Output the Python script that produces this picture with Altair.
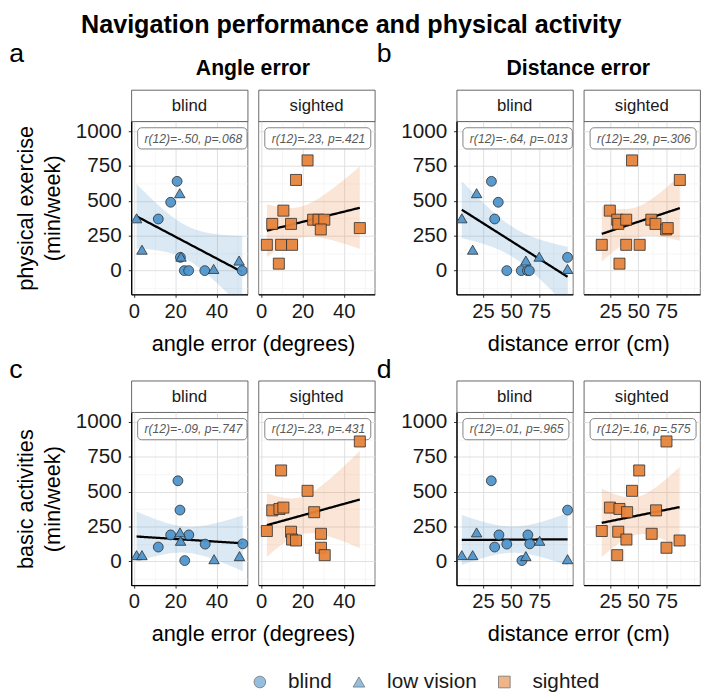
import numpy as np
import pandas as pd
import altair as alt

FONT = "Liberation Sans"

# ---------------- values ----------------
blind_groups = ["blind"] * 8 + ["low vision"] * 6
sighted_groups = ["sighted"] * 14

# a: angle error (degrees) vs physical exercise (min/week)
a_blind_x = [20.9, 17.8, 11.8, 22.5, 24.4, 26.5, 34.3, 52.4, 1.3, 3.9, 22.2, 22.8, 38.6, 50.9]
a_blind_y = [640, 490, 370, 95, 0, 0, 0, 0, 375, 150, 555, 100, 12, 72]
a_sighted_x = [22.5, 16.9, 10.8, 5.4, 14.5, 25.2, 27.8, 30.6, 28.9, 2.8, 9.7, 15.0, 8.6, 47.8]
a_sighted_y = [790, 650, 430, 335, 335, 365, 365, 365, 295, 185, 185, 185, 50, 305]

# b: distance error (cm) vs physical exercise (min/week)
b_blind_x = [32.4, 38.5, 35.3, 46.1, 59.0, 64.5, 66.2, 100.3, 6.0, 19.2, 15.7, 63.1, 75.0, 100.3]
b_blind_y = [640, 490, 370, 0, 0, 0, 0, 95, 375, 555, 150, 72, 100, 12]
b_sighted_x = [44.4, 87.0, 24.6, 31.2, 32.1, 39.2, 61.6, 65.3, 74.8, 76.2, 17.4, 39.2, 51.2, 33.2]
b_sighted_y = [790, 650, 430, 365, 335, 365, 365, 335, 295, 305, 185, 185, 185, 50]

# c: angle error (degrees) vs basic activities (min/week)
c_blind_x = [21.3, 22.3, 17.8, 26.6, 11.8, 24.6, 34.5, 52.7, 1.3, 3.9, 22.3, 22.6, 38.8, 51.1]
c_blind_y = [578, 368, 190, 190, 103, 6, 124, 126, 45, 45, 208, 148, 16, 38]
c_sighted_x = [47.8, 9.7, 22.5, 5.4, 8.9, 10.8, 25.7, 2.8, 14.5, 15.0, 16.9, 29.0, 29.0, 30.8]
c_sighted_y = [860, 652, 506, 366, 376, 386, 353, 218, 213, 157, 150, 198, 98, 45]

# d: distance error (cm) vs basic activities (min/week)
d_blind_x = [32.3, 39.1, 35.3, 46.1, 64.9, 66.6, 59.6, 100.3, 6.0, 15.7, 19.2, 63.1, 75.4, 100.3]
d_blind_y = [578, 190, 103, 124, 190, 126, 6, 368, 45, 45, 208, 38, 148, 16]
d_sighted_x = [75.1, 50.8, 44.4, 24.7, 33.2, 40.0, 65.8, 17.4, 32.1, 39.4, 61.9, 86.8, 75.1, 31.2]
d_sighted_y = [860, 652, 506, 386, 376, 353, 366, 218, 213, 157, 198, 150, 98, 45]

stat_labels = {
    "a": ["r(12)=-.50, p=.068", "r(12)=.23, p=.421"],
    "b": ["r(12)=-.64, p=.013", "r(12)=.29, p=.306"],
    "c": ["r(12)=-.09, p=.747", "r(12)=.23, p=.431"],
    "d": ["r(12)=.01, p=.965", "r(12)=.16, p=.575"],
}
panel_letters = ["a", "b", "c", "d"]
panel_titles = ["Angle error", "Distance error"]
facet_names = ["blind", "sighted"]
x_titles = ["angle error (degrees)", "distance error (cm)"]
y_titles = [["physical exercise", "(min/week)"], ["basic activities", "(min/week)"]]
main_title = "Navigation performance and physical activity"

group_domain = ["blind", "low vision", "sighted"]
group_shapes = ["circle", "triangle-up", "square"]
group_fills = ["#5096cc", "#5096cc", "#e6843c"]
group_sizes = [100, 125, 72]

y_domain = [-170, 1070]
y_grid = [-125, 0, 125, 250, 375, 500, 625, 750, 875, 1000]
y_labels = [0, 250, 500, 750, 1000]
angle_domain = [-1.3, 55.0]
angle_grid = [0, 10, 20, 30, 40, 50]
angle_labels = [0, 20, 40]
dist_domain = [1.3, 105.0]
dist_grid = [12.5, 25, 37.5, 50, 62.5, 75, 87.5, 100]
dist_labels = [25, 50, 75]

# ---------------- layout constants ----------------
W = 118
PH = 175.5
SH = 32
GAP = 60.3
ROWGAP = 86.3
MAJ_C, MIN_C = "#e0e0e0", "#ececec"
T975 = 2.1788  # t quantile, df = 12


def band_df(xs, ys, n=80):
    x = np.asarray(xs, float)
    y = np.asarray(ys, float)
    b1, b0 = np.polyfit(x, y, 1)
    gx = np.linspace(x.min(), x.max(), n)
    fit = b0 + b1 * gx
    resid = y - (b0 + b1 * x)
    s = np.sqrt((resid ** 2).sum() / (len(x) - 2))
    sxx = ((x - x.mean()) ** 2).sum()
    se = s * np.sqrt(1.0 / len(x) + (gx - x.mean()) ** 2 / sxx)
    return pd.DataFrame({"x": gx, "fit": fit, "lo": fit - T975 * se, "hi": fit + T975 * se})


def test_in(vals):
    return "indexof([" + ",".join(str(v) for v in vals) + "], datum.value) >= 0"


def cond(test, a, b):
    return {"condition": {"test": test, "value": a}, "value": b}


SHAPE_SCALE = alt.Scale(domain=group_domain, range=group_shapes)
FILL_SCALE = alt.Scale(domain=group_domain, range=group_fills)
SIZE_SCALE = alt.Scale(domain=group_domain, range=group_sizes)
STROKE_SCALE = alt.Scale(domain=group_domain, range=["#4d4d4d", "#4d4d4d", "#4d4d4d"])

LEG = alt.Legend(
    orient="none", legendX=120, legendY=87, direction="horizontal", title=None,
    labelFont=FONT, labelFontSize=21, labelColor="#1a1a1a", symbolSize=140,
    labelOffset=18, columnPadding=16.5, symbolStrokeWidth=0.8,
)


def plot_cell(px, py, pg, label, xdom, xgrid, xlabs, rcolor, left, ytitle=None, xtitle=None):
    pts = pd.DataFrame({"x": px, "y": py, "group": pg})
    bd = band_df(px, py)
    xsc = alt.Scale(domain=xdom, nice=False, zero=False)
    ysc = alt.Scale(domain=y_domain, nice=False, zero=False)
    xt = test_in(xlabs)
    yt = test_in(y_labels)
    xkw = dict(
        values=xgrid, format="d", labelExpr=f"{xt} ? datum.label : ''", grid=True,
        gridColor=cond(xt, MAJ_C, MIN_C), gridWidth=cond(xt, 1.0, 0.5),
        tickOpacity=cond(xt, 1, 0), tickSize=3, tickColor="#333333",
        domainColor="black", domainWidth=1.4, labelFontSize=20.5, labelPadding=4,
        labelFont=FONT, labelColor="#1a1a1a", labelFlush=False, labelOverlap=False,
    )
    if xtitle:
        xkw.update(titleX=123.5, titleY=56.5, titleBaseline="alphabetic", titleAlign="center",
                   titleFontSize=22, titleFont=FONT, titleFontWeight="normal", titleColor="black")
    xaxis = alt.Axis(**xkw)
    if left:
        ykw = dict(
            values=y_grid, format="d", labelExpr=f"{yt} ? datum.label : ''", grid=True,
            gridColor=cond(yt, MAJ_C, MIN_C), gridWidth=cond(yt, 1.0, 0.5),
            tickOpacity=cond(yt, 1, 0), tickSize=3, tickColor="#333333",
            domainColor="black", domainWidth=1.4, labelFontSize=21, labelPadding=7,
            labelFont=FONT, labelColor="#1a1a1a", labelOverlap=False, labelFlush=False,
        )
        if ytitle:
            ykw.update(titleX=-106.7, titleY=PH / 2, titleBaseline="middle", titleAlign="center",
                       titleAngle=270, titleLineHeight=27, titleFontSize=22, titleFont=FONT,
                       titleFontWeight="normal", titleColor="black")
    else:
        ykw = dict(values=y_grid, labels=False, ticks=False, domain=False, grid=True,
                   gridColor=cond(yt, MAJ_C, MIN_C), gridWidth=cond(yt, 1.0, 0.5))
    yaxis = alt.Axis(**ykw)

    def xe(f):
        return alt.X(f, type="quantitative", scale=xsc, axis=xaxis, title=xtitle if xtitle else None)

    def ye(f):
        return alt.Y(f, type="quantitative", scale=ysc, axis=yaxis, title=ytitle if ytitle else None)

    ribbon = alt.Chart(bd).mark_area(color=rcolor, opacity=0.21, clip=True).encode(
        x=xe("x"), y=ye("lo"), y2=alt.Y2("hi"))
    line = alt.Chart(bd).mark_line(color="black", strokeWidth=2.3, clip=True).encode(
        x=xe("x"), y=ye("fit"))
    points = alt.Chart(pts).mark_point(
        filled=True, stroke="#2d2d2d", strokeWidth=0.8, fillOpacity=0.95, opacity=1).encode(
        x=xe("x"), y=ye("y"),
        shape=alt.Shape("group:N", scale=SHAPE_SCALE, legend=None),
        fill=alt.Fill("group:N", scale=FILL_SCALE, legend=None),
        size=alt.Size("group:N", scale=SIZE_SCALE, legend=None),
    )
    lab = pd.DataFrame({"label": [label]})
    bw = 111 if "-" in label else 107.5
    box = alt.Chart(lab).mark_rect(fill="white", stroke="#777777", strokeWidth=0.9, cornerRadius=4).encode(
        x=alt.value(6.5), x2=alt.value(6.5 + bw), y=alt.value(6.5), y2=alt.value(28))
    txt = alt.Chart(lab).mark_text(font=FONT, fontSize=12.3, fontStyle="italic", color="#595959",
                                   align="left", baseline="middle").encode(
        x=alt.value(13.5), y=alt.value(17.5), text="label:N")
    return alt.layer(ribbon, line, box, txt, points).properties(
        width=W, height=PH, view=alt.ViewBackground(fill="white", stroke="#555555", strokeWidth=0.8))


def strip_cell(name, letter=None, letter_x=-123.7, letter_y=-27.8, coltitle=None):
    layers = [alt.Chart(pd.DataFrame({"t": [name]})).mark_text(
        font=FONT, fontSize=17, color="#1a1a1a", baseline="middle", align="center").encode(
        x=alt.value(W / 2), y=alt.value(SH / 2 + 0.5), text="t:N")]
    if letter:
        layers.append(alt.Chart(pd.DataFrame({"t": [letter]})).mark_text(
            font=FONT, fontSize=27, color="black", baseline="alphabetic", align="left").encode(
            x=alt.value(letter_x), y=alt.value(letter_y), text="t:N"))
    if coltitle:
        layers.append(alt.Chart(pd.DataFrame({"t": [coltitle]})).mark_text(
            font=FONT, fontSize=21.5, fontWeight="bold", color="black", baseline="alphabetic",
            align="center").encode(x=alt.value(123.5), y=alt.value(-15.3), text="t:N"))
    return alt.layer(*layers).properties(
        width=W, height=SH, view=alt.ViewBackground(fill="white", stroke="#555555", strokeWidth=0.9))


def spacer(w, h):
    return alt.Chart(pd.DataFrame({"s": [""]})).mark_text().encode(
        text="s:N", x=alt.value(0), y=alt.value(0)).properties(width=w, height=h)


def legend_cell():
    return alt.Chart(pd.DataFrame({"group": group_domain})).mark_point(
        filled=True, strokeWidth=0.8, opacity=0.78).encode(
        shape=alt.Shape("group:N", scale=SHAPE_SCALE, legend=LEG),
        fill=alt.Fill("group:N", scale=FILL_SCALE, legend=LEG),
        stroke=alt.Stroke("group:N", scale=STROKE_SCALE, legend=LEG),
        size=alt.value(0), x=alt.value(0), y=alt.value(0),
    ).properties(width=W, height=1)


row_strip1 = [strip_cell(facet_names[0], panel_letters[0], coltitle=panel_titles[0]),
              strip_cell(facet_names[1]), spacer(GAP, SH),
              strip_cell(facet_names[0], panel_letters[1], letter_x=-81, coltitle=panel_titles[1]),
              strip_cell(facet_names[1])]
row_plot1 = [
    plot_cell(a_blind_x, a_blind_y, blind_groups, stat_labels["a"][0], angle_domain, angle_grid,
              angle_labels, "#5096cc", True, ytitle=y_titles[0], xtitle=x_titles[0]),
    plot_cell(a_sighted_x, a_sighted_y, sighted_groups, stat_labels["a"][1], angle_domain, angle_grid,
              angle_labels, "#e6843c", False),
    spacer(GAP, PH),
    plot_cell(b_blind_x, b_blind_y, blind_groups, stat_labels["b"][0], dist_domain, dist_grid,
              dist_labels, "#5096cc", True, xtitle=x_titles[1]),
    plot_cell(b_sighted_x, b_sighted_y, sighted_groups, stat_labels["b"][1], dist_domain, dist_grid,
              dist_labels, "#e6843c", False),
]
row_gap = [spacer(W, ROWGAP), spacer(W, ROWGAP), spacer(GAP, ROWGAP), spacer(W, ROWGAP), spacer(W, ROWGAP)]
row_strip2 = [strip_cell(facet_names[0], panel_letters[2], letter_y=-2.3),
              strip_cell(facet_names[1]), spacer(GAP, SH),
              strip_cell(facet_names[0], panel_letters[3], letter_x=-81, letter_y=-2.3),
              strip_cell(facet_names[1])]
row_plot2 = [
    plot_cell(c_blind_x, c_blind_y, blind_groups, stat_labels["c"][0], angle_domain, angle_grid,
              angle_labels, "#5096cc", True, ytitle=y_titles[1], xtitle=x_titles[0]),
    plot_cell(c_sighted_x, c_sighted_y, sighted_groups, stat_labels["c"][1], angle_domain, angle_grid,
              angle_labels, "#e6843c", False),
    spacer(GAP, PH),
    plot_cell(d_blind_x, d_blind_y, blind_groups, stat_labels["d"][0], dist_domain, dist_grid,
              dist_labels, "#5096cc", True, xtitle=x_titles[1]),
    plot_cell(d_sighted_x, d_sighted_y, sighted_groups, stat_labels["d"][1], dist_domain, dist_grid,
              dist_labels, "#e6843c", False),
]
row_legend = [legend_cell()]

cells = row_strip1 + row_plot1 + row_gap + row_strip2 + row_plot2 + row_legend

chart = alt.concat(
    *cells, columns=5, spacing={"row": 0, "column": 11}, bounds="flush", align="each"
).resolve_legend(
    shape="independent", fill="independent", stroke="independent"
).properties(
    title=alt.TitleParams(main_title, font=FONT, fontSize=25.5, fontWeight="bold", anchor="middle",
                          offset=1.5, dx=-3.5, color="black"),
    padding=0,
).configure_view(stroke="transparent")

chart.save("out.html", embed_options={"renderer": "svg", "actions": False})
